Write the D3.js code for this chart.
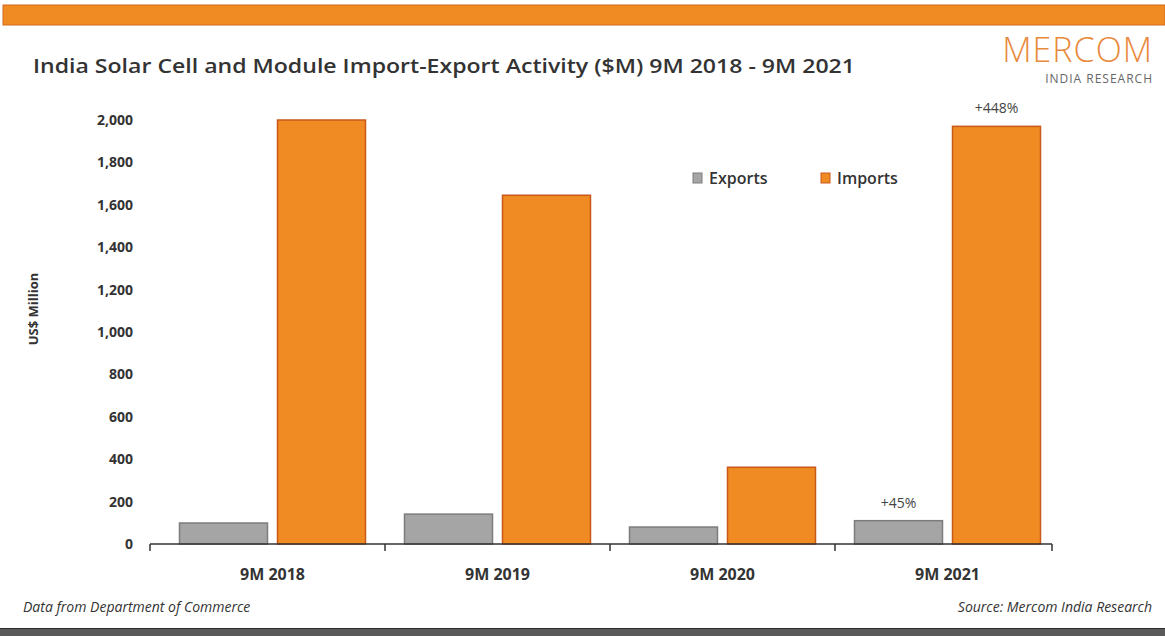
<!DOCTYPE html>
<html>
<head>
<meta charset="utf-8">
<script src="https://cdn.jsdelivr.net/npm/d3@7"></script>
<style>
  html, body { margin: 0; padding: 0; background: #fff; }
  svg { display: block; font-family: 'Open Sans', sans-serif; }
</style>
</head>
<body>
<div id="chart"></div>
<script>
// data
const periods = ['9M 2018', '9M 2019', '9M 2020', '9M 2021'];
const seriesNames = ['Exports', 'Imports'];
const exportsValues = [99, 141, 80, 110];
const importsValues = [2000, 1645, 362, 1970];
const yTicks = [0, 200, 400, 600, 800, 1000, 1200, 1400, 1600, 1800, 2000];
const annotations = [
    { period: '9M 2021', series: 'Exports', text: '+45%' },
    { period: '9M 2021', series: 'Imports', text: '+448%' }
];

const width = 1165, height = 636;
const colors = { Exports: '#a5a5a5', Imports: '#ef8b22' };
const strokes = { Exports: '#7c7c7c', Imports: '#c9581b' };

const svg = d3.select('#chart').append('svg')
    .attr('width', width)
    .attr('height', height);

// header band and footer band
svg.append('rect')
    .attr('x', 3).attr('y', 5).attr('width', width - 3).attr('height', 20)
    .attr('fill', '#ef8b22').attr('stroke', '#d06a1c').attr('stroke-width', 1);
svg.append('rect')
    .attr('x', 0).attr('y', 628).attr('width', width).attr('height', 8)
    .attr('fill', '#5a5a5a');
svg.append('line')
    .attr('x1', 0).attr('x2', width).attr('y1', 628.5).attr('y2', 628.5)
    .attr('stroke', '#2a2a2a').attr('stroke-width', 1);

// title
svg.append('text')
    .attr('x', 33).attr('y', 73)
    .attr('fill', '#333')
    .style('font-size', '20px')
    .style('font-weight', 600)
    .attr('textLength', 822)
    .attr('lengthAdjust', 'spacingAndGlyphs')
    .text('India Solar Cell and Module Import-Export Activity ($M) 9M 2018 - 9M 2021');

// logo
svg.append('text')
    .attr('x', 1153).attr('y', 62)
    .attr('text-anchor', 'end')
    .attr('fill', '#e88a3c')
    .style('font-size', '34px')
    .style('font-weight', 300)
    .style('letter-spacing', '1px')
    .text('MERCOM');
svg.append('text')
    .attr('x', 1153).attr('y', 83)
    .attr('text-anchor', 'end')
    .attr('fill', '#666')
    .style('font-size', '12px')
    .style('letter-spacing', '1px')
    .text('INDIA RESEARCH');

// scales
const x = d3.scaleBand()
    .domain(periods)
    .range([160, 1060]);

const xInner = d3.scaleBand()
    .domain(seriesNames)
    .range([0, x.bandwidth()])
    .paddingInner(0.102)
    .paddingOuter(0.199);

const y = d3.scaleLinear()
    .domain([0, 2000])
    .range([544, 120]);

const rows = periods.map((p, i) => ({
    period: p,
    values: [
        { series: 'Exports', value: exportsValues[i] },
        { series: 'Imports', value: importsValues[i] }
    ]
}));

// bars
const groups = svg.selectAll('.group')
    .data(rows)
    .enter().append('g')
    .attr('class', 'group')
    .attr('transform', d => `translate(${x(d.period)},0)`);

groups.selectAll('rect')
    .data(d => d.values)
    .enter().append('rect')
    .attr('x', d => xInner(d.series))
    .attr('width', xInner.bandwidth())
    .attr('y', d => y(d.value))
    .attr('height', d => y(0) - y(d.value))
    .attr('fill', d => colors[d.series])
    .attr('stroke', d => strokes[d.series])
    .attr('stroke-width', 1.5);

// y axis labels (no axis line)
const yAxis = svg.append('g')
    .attr('transform', 'translate(133,0)')
    .call(d3.axisLeft(y).tickValues(yTicks).tickSize(0).tickPadding(0)
        .tickFormat(d3.format(',')));
yAxis.select('.domain').remove();
yAxis.selectAll('text')
    .attr('fill', '#333')
    .style('font-family', "'Open Sans', sans-serif")
    .style('font-size', '14px')
    .style('font-weight', 700);

// y axis title
svg.append('text')
    .attr('transform', 'translate(38,309) rotate(-90)')
    .attr('text-anchor', 'middle')
    .attr('fill', '#333')
    .style('font-size', '13px')
    .style('font-weight', 700)
    .text('US$ Million');

// x axis line with boundary ticks
const x0 = x.range()[0] - 10, x1 = x.range()[1] - 8;
svg.append('line')
    .attr('x1', x0).attr('x2', x1)
    .attr('y1', y(0)).attr('y2', y(0))
    .attr('stroke', '#333').attr('stroke-width', 1.5);
const bounds = periods.map(p => x(p)).concat([x.range()[1]]);
svg.selectAll('.bound')
    .data(bounds)
    .enter().append('line')
    .attr('class', 'bound')
    .attr('x1', (d, i) => i === 0 ? x0 : (i === bounds.length - 1 ? x1 : d))
    .attr('x2', (d, i) => i === 0 ? x0 : (i === bounds.length - 1 ? x1 : d))
    .attr('y1', y(0)).attr('y2', y(0) + 7)
    .attr('stroke', '#333').attr('stroke-width', 1.5);

// category labels
svg.selectAll('.cat')
    .data(periods)
    .enter().append('text')
    .attr('class', 'cat')
    .attr('x', d => x(d) + x.bandwidth() / 2)
    .attr('y', 580)
    .attr('text-anchor', 'middle')
    .attr('fill', '#333')
    .style('font-size', '16px')
    .style('font-weight', 700)
    .text(d => d);

// legend
const legend = svg.append('g');
const legendX = [693, 821];
seriesNames.forEach((s, i) => {
    legend.append('rect')
        .attr('x', legendX[i]).attr('y', 173)
        .attr('width', 9).attr('height', 10)
        .attr('fill', colors[s]).attr('stroke', strokes[s]).attr('stroke-width', 1);
    legend.append('text')
        .attr('x', legendX[i] + 16).attr('y', 184)
        .attr('fill', '#333')
        .style('font-size', '16px')
        .style('font-weight', 600)
        .text(s);
});

// change annotations
annotations.forEach(a => {
    const i = periods.indexOf(a.period);
    const v = a.series === 'Exports' ? exportsValues[i] : importsValues[i];
    svg.append('text')
        .attr('x', x(a.period) + xInner(a.series) + xInner.bandwidth() / 2)
        .attr('y', y(v) - 13)
        .attr('text-anchor', 'middle')
        .attr('fill', '#444')
        .style('font-size', '14px')
        .text(a.text);
});

// footer notes
svg.append('text')
    .attr('x', 23).attr('y', 612)
    .attr('fill', '#333')
    .style('font-size', '14px')
    .style('font-style', 'italic')
    .text('Data from Department of Commerce');
svg.append('text')
    .attr('x', 1152).attr('y', 612)
    .attr('text-anchor', 'end')
    .attr('fill', '#333')
    .style('font-size', '14px')
    .style('font-style', 'italic')
    .text('Source: Mercom India Research');
</script>
</body>
</html>
